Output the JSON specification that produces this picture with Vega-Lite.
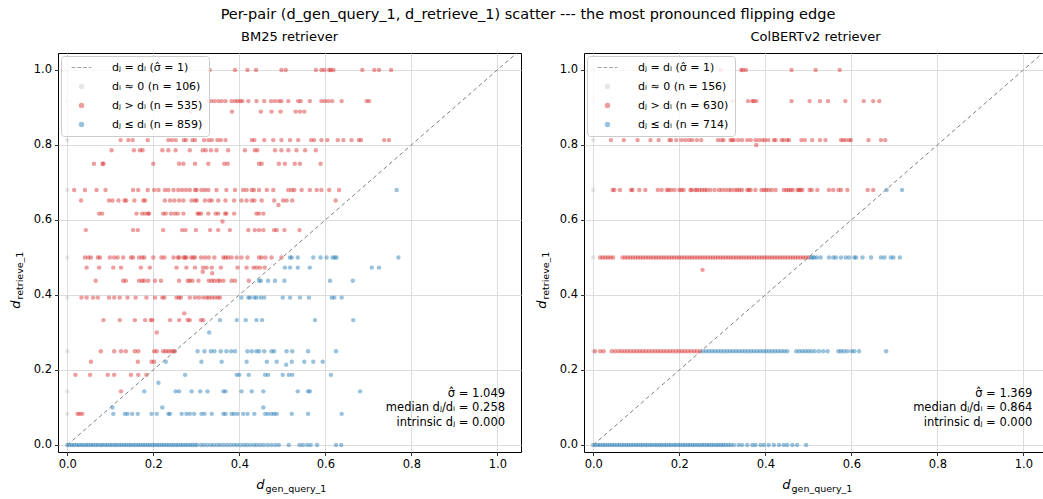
{
"$schema":"https://vega.github.io/schema/vega-lite/v6.json",
"padding":{"left":8,"top":6,"right":0,"bottom":6},
"title":{"text":"Per-pair (d_gen_query_1, d_retrieve_1) scatter --- the most pronounced flipping edge","fontSize":14.5,"fontWeight":"normal","anchor":"middle","offset":8,"font":"DejaVu Sans","color":"#000"},
"datasets":{
"diag":[{"x":0,"y":0},{"x":1.06,"y":1.06}],
"bmnote":[{"t":"σ̂ = 1.049\nmedian dⱼ/dᵢ = 0.258\nintrinsic dⱼ = 0.000"}],
"cbnote":[{"t":"σ̂ = 1.369\nmedian dⱼ/dᵢ = 0.864\nintrinsic dⱼ = 0.000"}],
"bm":[
{"x":0,"y":1,"c":"g"},{"x":0,"y":0.917,"c":"g"},{"x":0,"y":0.813,"c":"g"},{"x":0,"y":0.68,"c":"g"},{"x":0,"y":0.5,"c":"g"},{"x":0,"y":0.393,"c":"g"},{"x":0,"y":0.25,"c":"g"},{"x":0,"y":0.143,"c":"g"},{"x":0,"y":0.083,"c":"g"},
{"x":0.331,"y":1,"c":"r"},{"x":0.39,"y":1,"c":"r"},{"x":0.419,"y":1,"c":"r"},{"x":0.439,"y":1,"c":"r"},{"x":0.498,"y":1,"c":"r"},{"x":0.508,"y":1,"c":"r"},{"x":0.578,"y":1,"c":"r"},{"x":0.591,"y":1,"c":"r"},{"x":0.598,"y":1,"c":"r"},{"x":0.609,"y":1,"c":"r"},{"x":0.613,"y":1,"c":"r"},{"x":0.619,"y":1,"c":"r"},{"x":0.686,"y":1,"c":"r"},{"x":0.714,"y":1,"c":"r"},{"x":0.725,"y":1,"c":"r"},{"x":0.753,"y":1,"c":"r"},
{"x":0.281,"y":0.917,"c":"r"},{"x":0.303,"y":0.917,"c":"r"},{"x":0.328,"y":0.917,"c":"r"},{"x":0.334,"y":0.917,"c":"r"},{"x":0.342,"y":0.917,"c":"r"},{"x":0.351,"y":0.917,"c":"r"},{"x":0.359,"y":0.917,"c":"r"},{"x":0.368,"y":0.917,"c":"r"},{"x":0.382,"y":0.917,"c":"r"},{"x":0.39,"y":0.917,"c":"r"},{"x":0.396,"y":0.917,"c":"r"},{"x":0.402,"y":0.917,"c":"r"},{"x":0.407,"y":0.917,"c":"r"},{"x":0.421,"y":0.917,"c":"r"},{"x":0.44,"y":0.917,"c":"r"},{"x":0.458,"y":0.917,"c":"r"},{"x":0.474,"y":0.917,"c":"r"},{"x":0.483,"y":0.917,"c":"r"},{"x":0.492,"y":0.917,"c":"r"},{"x":0.498,"y":0.917,"c":"r"},{"x":0.514,"y":0.917,"c":"r"},{"x":0.537,"y":0.917,"c":"r"},{"x":0.543,"y":0.917,"c":"r"},{"x":0.564,"y":0.917,"c":"r"},{"x":0.591,"y":0.917,"c":"r"},{"x":0.599,"y":0.917,"c":"r"},{"x":0.607,"y":0.917,"c":"r"},{"x":0.616,"y":0.917,"c":"r"},{"x":0.638,"y":0.917,"c":"r"},{"x":0.696,"y":0.917,"c":"r"},{"x":0.702,"y":0.917,"c":"r"},
{"x":0.287,"y":0.889,"c":"r"},{"x":0.383,"y":0.889,"c":"r"},{"x":0.45,"y":0.889,"c":"r"},{"x":0.475,"y":0.889,"c":"r"},{"x":0.496,"y":0.889,"c":"r"},{"x":0.531,"y":0.889,"c":"r"},{"x":0.541,"y":0.889,"c":"r"},{"x":0.551,"y":0.889,"c":"r"},
{"x":0.124,"y":0.813,"c":"r"},{"x":0.142,"y":0.813,"c":"r"},{"x":0.152,"y":0.813,"c":"r"},{"x":0.187,"y":0.813,"c":"r"},{"x":0.235,"y":0.813,"c":"r"},{"x":0.243,"y":0.813,"c":"r"},{"x":0.252,"y":0.813,"c":"r"},{"x":0.271,"y":0.813,"c":"r"},{"x":0.276,"y":0.813,"c":"r"},{"x":0.291,"y":0.813,"c":"r"},{"x":0.297,"y":0.813,"c":"r"},{"x":0.318,"y":0.813,"c":"r"},{"x":0.328,"y":0.813,"c":"r"},{"x":0.336,"y":0.813,"c":"r"},{"x":0.349,"y":0.813,"c":"r"},{"x":0.357,"y":0.813,"c":"r"},{"x":0.368,"y":0.813,"c":"r"},{"x":0.429,"y":0.813,"c":"r"},{"x":0.435,"y":0.813,"c":"r"},{"x":0.458,"y":0.813,"c":"r"},{"x":0.479,"y":0.813,"c":"r"},{"x":0.498,"y":0.813,"c":"r"},{"x":0.518,"y":0.813,"c":"r"},{"x":0.537,"y":0.813,"c":"r"},{"x":0.567,"y":0.813,"c":"r"},{"x":0.574,"y":0.813,"c":"r"},{"x":0.591,"y":0.813,"c":"r"},{"x":0.605,"y":0.813,"c":"r"},{"x":0.629,"y":0.813,"c":"r"},{"x":0.642,"y":0.813,"c":"r"},{"x":0.661,"y":0.813,"c":"r"},{"x":0.678,"y":0.813,"c":"r"},{"x":0.683,"y":0.813,"c":"r"},{"x":0.737,"y":0.813,"c":"r"},{"x":0.748,"y":0.813,"c":"r"},
{"x":0.103,"y":0.786,"c":"r"},{"x":0.155,"y":0.786,"c":"r"},{"x":0.169,"y":0.786,"c":"r"},{"x":0.175,"y":0.786,"c":"r"},{"x":0.221,"y":0.786,"c":"r"},{"x":0.235,"y":0.786,"c":"r"},{"x":0.252,"y":0.786,"c":"r"},{"x":0.285,"y":0.786,"c":"r"},{"x":0.315,"y":0.786,"c":"r"},{"x":0.322,"y":0.786,"c":"r"},{"x":0.334,"y":0.786,"c":"r"},{"x":0.347,"y":0.786,"c":"r"},{"x":0.374,"y":0.786,"c":"r"},{"x":0.413,"y":0.786,"c":"r"},{"x":0.436,"y":0.786,"c":"r"},{"x":0.442,"y":0.786,"c":"r"},{"x":0.483,"y":0.786,"c":"r"},{"x":0.498,"y":0.786,"c":"r"},{"x":0.514,"y":0.786,"c":"r"},{"x":0.533,"y":0.786,"c":"r"},{"x":0.553,"y":0.786,"c":"r"},{"x":0.578,"y":0.786,"c":"r"},
{"x":0.062,"y":0.75,"c":"r"},{"x":0.082,"y":0.75,"c":"r"},{"x":0.084,"y":0.75,"c":"r"},{"x":0.2,"y":0.75,"c":"r"},{"x":0.26,"y":0.75,"c":"r"},{"x":0.27,"y":0.75,"c":"r"},{"x":0.297,"y":0.75,"c":"r"},{"x":0.328,"y":0.75,"c":"r"},{"x":0.365,"y":0.75,"c":"r"},{"x":0.373,"y":0.75,"c":"r"},{"x":0.446,"y":0.75,"c":"r"},{"x":0.452,"y":0.75,"c":"r"},{"x":0.492,"y":0.75,"c":"r"},{"x":0.506,"y":0.75,"c":"r"},{"x":0.529,"y":0.75,"c":"r"},{"x":0.541,"y":0.75,"c":"r"},{"x":0.589,"y":0.75,"c":"r"},
{"x":0.016,"y":0.68,"c":"r"},{"x":0.041,"y":0.68,"c":"r"},{"x":0.068,"y":0.68,"c":"r"},{"x":0.089,"y":0.68,"c":"r"},{"x":0.153,"y":0.68,"c":"r"},{"x":0.165,"y":0.68,"c":"r"},{"x":0.187,"y":0.68,"c":"r"},{"x":0.202,"y":0.68,"c":"r"},{"x":0.212,"y":0.68,"c":"r"},{"x":0.227,"y":0.68,"c":"r"},{"x":0.235,"y":0.68,"c":"r"},{"x":0.247,"y":0.68,"c":"r"},{"x":0.258,"y":0.68,"c":"r"},{"x":0.267,"y":0.68,"c":"r"},{"x":0.276,"y":0.68,"c":"r"},{"x":0.285,"y":0.68,"c":"r"},{"x":0.297,"y":0.68,"c":"r"},{"x":0.301,"y":0.68,"c":"r"},{"x":0.312,"y":0.68,"c":"r"},{"x":0.32,"y":0.68,"c":"r"},{"x":0.328,"y":0.68,"c":"r"},{"x":0.347,"y":0.68,"c":"r"},{"x":0.37,"y":0.68,"c":"r"},{"x":0.39,"y":0.68,"c":"r"},{"x":0.409,"y":0.68,"c":"r"},{"x":0.417,"y":0.68,"c":"r"},{"x":0.429,"y":0.68,"c":"r"},{"x":0.434,"y":0.68,"c":"r"},{"x":0.446,"y":0.68,"c":"r"},{"x":0.464,"y":0.68,"c":"r"},{"x":0.479,"y":0.68,"c":"r"},{"x":0.514,"y":0.68,"c":"r"},{"x":0.522,"y":0.68,"c":"r"},{"x":0.528,"y":0.68,"c":"r"},{"x":0.545,"y":0.68,"c":"r"},{"x":0.564,"y":0.68,"c":"r"},{"x":0.58,"y":0.68,"c":"r"},{"x":0.591,"y":0.68,"c":"r"},{"x":0.609,"y":0.68,"c":"r"},{"x":0.632,"y":0.68,"c":"r"},
{"x":0.032,"y":0.652,"c":"r"},{"x":0.097,"y":0.652,"c":"r"},{"x":0.105,"y":0.652,"c":"r"},{"x":0.119,"y":0.652,"c":"r"},{"x":0.133,"y":0.652,"c":"r"},{"x":0.137,"y":0.652,"c":"r"},{"x":0.156,"y":0.652,"c":"r"},{"x":0.177,"y":0.652,"c":"r"},{"x":0.181,"y":0.652,"c":"r"},{"x":0.227,"y":0.652,"c":"r"},{"x":0.239,"y":0.652,"c":"r"},{"x":0.249,"y":0.652,"c":"r"},{"x":0.26,"y":0.652,"c":"r"},{"x":0.27,"y":0.652,"c":"r"},{"x":0.289,"y":0.652,"c":"r"},{"x":0.297,"y":0.652,"c":"r"},{"x":0.301,"y":0.652,"c":"r"},{"x":0.32,"y":0.652,"c":"r"},{"x":0.33,"y":0.652,"c":"r"},{"x":0.336,"y":0.652,"c":"r"},{"x":0.351,"y":0.652,"c":"r"},{"x":0.368,"y":0.652,"c":"r"},{"x":0.388,"y":0.652,"c":"r"},{"x":0.405,"y":0.652,"c":"r"},{"x":0.417,"y":0.652,"c":"r"},{"x":0.429,"y":0.652,"c":"r"},{"x":0.435,"y":0.652,"c":"r"},{"x":0.452,"y":0.652,"c":"r"},{"x":0.481,"y":0.652,"c":"r"},{"x":0.502,"y":0.652,"c":"r"},{"x":0.51,"y":0.652,"c":"r"},{"x":0.523,"y":0.652,"c":"r"},{"x":0.624,"y":0.652,"c":"r"},{"x":0.491,"y":0.64,"c":"r"},
{"x":0.074,"y":0.617,"c":"r"},{"x":0.081,"y":0.617,"c":"r"},{"x":0.161,"y":0.617,"c":"r"},{"x":0.174,"y":0.617,"c":"r"},{"x":0.181,"y":0.617,"c":"r"},{"x":0.188,"y":0.617,"c":"r"},{"x":0.19,"y":0.617,"c":"r"},{"x":0.223,"y":0.617,"c":"r"},{"x":0.229,"y":0.617,"c":"r"},{"x":0.241,"y":0.617,"c":"r"},{"x":0.25,"y":0.617,"c":"r"},{"x":0.257,"y":0.617,"c":"r"},{"x":0.27,"y":0.617,"c":"r"},{"x":0.303,"y":0.617,"c":"r"},{"x":0.306,"y":0.617,"c":"r"},{"x":0.311,"y":0.617,"c":"r"},{"x":0.328,"y":0.617,"c":"r"},{"x":0.345,"y":0.617,"c":"r"},{"x":0.351,"y":0.617,"c":"r"},{"x":0.367,"y":0.617,"c":"r"},{"x":0.37,"y":0.617,"c":"r"},{"x":0.388,"y":0.617,"c":"r"},{"x":0.44,"y":0.617,"c":"r"},{"x":0.446,"y":0.617,"c":"r"},{"x":0.456,"y":0.617,"c":"r"},{"x":0.361,"y":0.596,"c":"r"},
{"x":0.043,"y":0.573,"c":"r"},{"x":0.153,"y":0.573,"c":"r"},{"x":0.164,"y":0.573,"c":"r"},{"x":0.223,"y":0.573,"c":"r"},{"x":0.267,"y":0.573,"c":"r"},{"x":0.275,"y":0.573,"c":"r"},{"x":0.299,"y":0.573,"c":"r"},{"x":0.332,"y":0.573,"c":"r"},{"x":0.351,"y":0.573,"c":"r"},{"x":0.378,"y":0.573,"c":"r"},{"x":0.421,"y":0.573,"c":"r"},{"x":0.436,"y":0.573,"c":"r"},{"x":0.446,"y":0.573,"c":"r"},{"x":0.456,"y":0.573,"c":"r"},{"x":0.481,"y":0.573,"c":"r"},{"x":0.487,"y":0.573,"c":"r"},{"x":0.505,"y":0.573,"c":"r"},{"x":0.54,"y":0.573,"c":"r"},
{"x":0.041,"y":0.5,"c":"r"},{"x":0.049,"y":0.5,"c":"r"},{"x":0.055,"y":0.5,"c":"r"},{"x":0.071,"y":0.5,"c":"r"},{"x":0.076,"y":0.5,"c":"r"},{"x":0.099,"y":0.5,"c":"r"},{"x":0.109,"y":0.5,"c":"r"},{"x":0.117,"y":0.5,"c":"r"},{"x":0.13,"y":0.5,"c":"r"},{"x":0.148,"y":0.5,"c":"r"},{"x":0.153,"y":0.5,"c":"r"},{"x":0.167,"y":0.5,"c":"r"},{"x":0.174,"y":0.5,"c":"r"},{"x":0.179,"y":0.5,"c":"r"},{"x":0.2,"y":0.5,"c":"r"},{"x":0.219,"y":0.5,"c":"r"},{"x":0.226,"y":0.5,"c":"r"},{"x":0.247,"y":0.5,"c":"r"},{"x":0.257,"y":0.5,"c":"r"},{"x":0.26,"y":0.5,"c":"r"},{"x":0.27,"y":0.5,"c":"r"},{"x":0.274,"y":0.5,"c":"r"},{"x":0.277,"y":0.5,"c":"r"},{"x":0.288,"y":0.5,"c":"r"},{"x":0.293,"y":0.5,"c":"r"},{"x":0.297,"y":0.5,"c":"r"},{"x":0.311,"y":0.5,"c":"r"},{"x":0.32,"y":0.5,"c":"r"},{"x":0.329,"y":0.5,"c":"r"},{"x":0.342,"y":0.5,"c":"r"},{"x":0.363,"y":0.5,"c":"r"},{"x":0.368,"y":0.5,"c":"r"},{"x":0.374,"y":0.5,"c":"r"},{"x":0.382,"y":0.5,"c":"r"},{"x":0.394,"y":0.5,"c":"r"},{"x":0.405,"y":0.5,"c":"r"},{"x":0.419,"y":0.5,"c":"r"},{"x":0.446,"y":0.5,"c":"r"},{"x":0.452,"y":0.5,"c":"r"},{"x":0.461,"y":0.5,"c":"r"},{"x":0.475,"y":0.5,"c":"r"},{"x":0.498,"y":0.5,"c":"r"},
{"x":0.045,"y":0.473,"c":"r"},{"x":0.074,"y":0.473,"c":"r"},{"x":0.107,"y":0.473,"c":"r"},{"x":0.125,"y":0.473,"c":"r"},{"x":0.171,"y":0.473,"c":"r"},{"x":0.192,"y":0.473,"c":"r"},{"x":0.254,"y":0.473,"c":"r"},{"x":0.277,"y":0.473,"c":"r"},{"x":0.297,"y":0.473,"c":"r"},{"x":0.316,"y":0.473,"c":"r"},{"x":0.324,"y":0.473,"c":"r"},{"x":0.336,"y":0.473,"c":"r"},{"x":0.357,"y":0.473,"c":"r"},{"x":0.396,"y":0.473,"c":"r"},{"x":0.417,"y":0.473,"c":"r"},{"x":0.433,"y":0.473,"c":"r"},{"x":0.44,"y":0.473,"c":"r"},{"x":0.448,"y":0.473,"c":"r"},{"x":0.459,"y":0.473,"c":"r"},{"x":0.315,"y":0.462,"c":"r"},{"x":0.337,"y":0.458,"c":"r"},
{"x":0.066,"y":0.438,"c":"r"},{"x":0.13,"y":0.438,"c":"r"},{"x":0.136,"y":0.438,"c":"r"},{"x":0.167,"y":0.438,"c":"r"},{"x":0.174,"y":0.438,"c":"r"},{"x":0.179,"y":0.438,"c":"r"},{"x":0.188,"y":0.438,"c":"r"},{"x":0.204,"y":0.438,"c":"r"},{"x":0.218,"y":0.438,"c":"r"},{"x":0.26,"y":0.438,"c":"r"},{"x":0.28,"y":0.438,"c":"r"},{"x":0.285,"y":0.438,"c":"r"},{"x":0.291,"y":0.438,"c":"r"},{"x":0.305,"y":0.438,"c":"r"},{"x":0.329,"y":0.438,"c":"r"},{"x":0.336,"y":0.438,"c":"r"},{"x":0.342,"y":0.438,"c":"r"},{"x":0.35,"y":0.438,"c":"r"},{"x":0.355,"y":0.438,"c":"r"},{"x":0.363,"y":0.438,"c":"r"},{"x":0.382,"y":0.438,"c":"r"},{"x":0.39,"y":0.438,"c":"r"},{"x":0.422,"y":0.438,"c":"r"},
{"x":0.033,"y":0.393,"c":"r"},{"x":0.045,"y":0.393,"c":"r"},{"x":0.06,"y":0.393,"c":"r"},{"x":0.071,"y":0.393,"c":"r"},{"x":0.097,"y":0.393,"c":"r"},{"x":0.109,"y":0.393,"c":"r"},{"x":0.122,"y":0.393,"c":"r"},{"x":0.14,"y":0.393,"c":"r"},{"x":0.159,"y":0.393,"c":"r"},{"x":0.184,"y":0.393,"c":"r"},{"x":0.204,"y":0.393,"c":"r"},{"x":0.221,"y":0.393,"c":"r"},{"x":0.226,"y":0.393,"c":"r"},{"x":0.254,"y":0.393,"c":"r"},{"x":0.26,"y":0.393,"c":"r"},{"x":0.264,"y":0.393,"c":"r"},{"x":0.285,"y":0.393,"c":"r"},{"x":0.297,"y":0.393,"c":"r"},{"x":0.306,"y":0.393,"c":"r"},{"x":0.316,"y":0.393,"c":"r"},{"x":0.324,"y":0.393,"c":"r"},{"x":0.329,"y":0.393,"c":"r"},{"x":0.336,"y":0.393,"c":"r"},{"x":0.343,"y":0.393,"c":"r"},{"x":0.35,"y":0.393,"c":"r"},{"x":0.355,"y":0.393,"c":"r"},{"x":0.272,"y":0.351,"c":"r"},
{"x":0.084,"y":0.333,"c":"r"},{"x":0.122,"y":0.333,"c":"r"},{"x":0.157,"y":0.333,"c":"r"},{"x":0.181,"y":0.333,"c":"r"},{"x":0.194,"y":0.333,"c":"r"},{"x":0.198,"y":0.333,"c":"r"},{"x":0.239,"y":0.333,"c":"r"},{"x":0.26,"y":0.333,"c":"r"},{"x":0.28,"y":0.333,"c":"r"},{"x":0.285,"y":0.333,"c":"r"},{"x":0.311,"y":0.333,"c":"r"},{"x":0.316,"y":0.333,"c":"r"},{"x":0.208,"y":0.3,"c":"r"},
{"x":0.078,"y":0.25,"c":"r"},{"x":0.109,"y":0.25,"c":"r"},{"x":0.125,"y":0.25,"c":"r"},{"x":0.136,"y":0.25,"c":"r"},{"x":0.157,"y":0.25,"c":"r"},{"x":0.165,"y":0.25,"c":"r"},{"x":0.202,"y":0.25,"c":"r"},{"x":0.208,"y":0.25,"c":"r"},{"x":0.223,"y":0.25,"c":"r"},{"x":0.229,"y":0.25,"c":"r"},{"x":0.235,"y":0.25,"c":"r"},{"x":0.241,"y":0.25,"c":"r"},{"x":0.247,"y":0.25,"c":"r"},{"x":0.25,"y":0.25,"c":"r"},
{"x":0.055,"y":0.222,"c":"r"},{"x":0.164,"y":0.222,"c":"r"},{"x":0.196,"y":0.222,"c":"r"},{"x":0.202,"y":0.222,"c":"r"},
{"x":0.019,"y":0.187,"c":"r"},{"x":0.053,"y":0.187,"c":"r"},{"x":0.094,"y":0.187,"c":"r"},{"x":0.109,"y":0.187,"c":"r"},{"x":0.148,"y":0.187,"c":"r"},{"x":0.165,"y":0.187,"c":"r"},{"x":0.184,"y":0.187,"c":"r"},
{"x":0.125,"y":0.143,"c":"r"},{"x":0.024,"y":0.083,"c":"r"},{"x":0.029,"y":0.083,"c":"r"},{"x":0.035,"y":0.083,"c":"r"},
{"x":0.766,"y":0.68,"c":"b"},
{"x":0.518,"y":0.5,"c":"b"},{"x":0.522,"y":0.5,"c":"b"},{"x":0.536,"y":0.5,"c":"b"},{"x":0.572,"y":0.5,"c":"b"},{"x":0.589,"y":0.5,"c":"b"},{"x":0.603,"y":0.5,"c":"b"},{"x":0.617,"y":0.5,"c":"b"},{"x":0.622,"y":0.5,"c":"b"},{"x":0.626,"y":0.5,"c":"b"},{"x":0.77,"y":0.5,"c":"b"},
{"x":0.506,"y":0.473,"c":"b"},{"x":0.518,"y":0.473,"c":"b"},{"x":0.536,"y":0.473,"c":"b"},{"x":0.564,"y":0.473,"c":"b"},{"x":0.708,"y":0.473,"c":"b"},{"x":0.725,"y":0.473,"c":"b"},
{"x":0.446,"y":0.438,"c":"b"},{"x":0.45,"y":0.438,"c":"b"},{"x":0.467,"y":0.438,"c":"b"},{"x":0.483,"y":0.438,"c":"b"},{"x":0.505,"y":0.438,"c":"b"},{"x":0.611,"y":0.438,"c":"b"},{"x":0.664,"y":0.438,"c":"b"},
{"x":0.405,"y":0.393,"c":"b"},{"x":0.421,"y":0.393,"c":"b"},{"x":0.425,"y":0.393,"c":"b"},{"x":0.435,"y":0.393,"c":"b"},{"x":0.44,"y":0.393,"c":"b"},{"x":0.45,"y":0.393,"c":"b"},{"x":0.458,"y":0.393,"c":"b"},{"x":0.501,"y":0.393,"c":"b"},{"x":0.518,"y":0.393,"c":"b"},{"x":0.541,"y":0.393,"c":"b"},{"x":0.562,"y":0.393,"c":"b"},{"x":0.615,"y":0.393,"c":"b"},{"x":0.621,"y":0.393,"c":"b"},{"x":0.638,"y":0.393,"c":"b"},
{"x":0.355,"y":0.333,"c":"b"},{"x":0.394,"y":0.333,"c":"b"},{"x":0.415,"y":0.333,"c":"b"},{"x":0.44,"y":0.333,"c":"b"},{"x":0.453,"y":0.333,"c":"b"},{"x":0.576,"y":0.333,"c":"b"},{"x":0.665,"y":0.333,"c":"b"},{"x":0.33,"y":0.3,"c":"b"},
{"x":0.303,"y":0.25,"c":"b"},{"x":0.319,"y":0.25,"c":"b"},{"x":0.334,"y":0.25,"c":"b"},{"x":0.342,"y":0.25,"c":"b"},{"x":0.357,"y":0.25,"c":"b"},{"x":0.37,"y":0.25,"c":"b"},{"x":0.381,"y":0.25,"c":"b"},{"x":0.39,"y":0.25,"c":"b"},{"x":0.419,"y":0.25,"c":"b"},{"x":0.429,"y":0.25,"c":"b"},{"x":0.44,"y":0.25,"c":"b"},{"x":0.446,"y":0.25,"c":"b"},{"x":0.458,"y":0.25,"c":"b"},{"x":0.475,"y":0.25,"c":"b"},{"x":0.481,"y":0.25,"c":"b"},{"x":0.51,"y":0.25,"c":"b"},{"x":0.523,"y":0.25,"c":"b"},{"x":0.56,"y":0.25,"c":"b"},{"x":0.625,"y":0.25,"c":"b"},
{"x":0.229,"y":0.222,"c":"b"},{"x":0.312,"y":0.222,"c":"b"},{"x":0.359,"y":0.222,"c":"b"},{"x":0.417,"y":0.222,"c":"b"},{"x":0.464,"y":0.222,"c":"b"},{"x":0.487,"y":0.222,"c":"b"},{"x":0.522,"y":0.222,"c":"b"},{"x":0.551,"y":0.222,"c":"b"},{"x":0.572,"y":0.222,"c":"b"},{"x":0.594,"y":0.222,"c":"b"},{"x":0.509,"y":0.214,"c":"b"},
{"x":0.274,"y":0.187,"c":"b"},{"x":0.394,"y":0.187,"c":"b"},{"x":0.4,"y":0.187,"c":"b"},{"x":0.422,"y":0.187,"c":"b"},{"x":0.46,"y":0.187,"c":"b"},{"x":0.467,"y":0.187,"c":"b"},{"x":0.501,"y":0.187,"c":"b"},{"x":0.515,"y":0.187,"c":"b"},{"x":0.523,"y":0.187,"c":"b"},{"x":0.613,"y":0.187,"c":"b"},{"x":0.212,"y":0.166,"c":"b"},
{"x":0.179,"y":0.143,"c":"b"},{"x":0.252,"y":0.143,"c":"b"},{"x":0.26,"y":0.143,"c":"b"},{"x":0.289,"y":0.143,"c":"b"},{"x":0.309,"y":0.143,"c":"b"},{"x":0.326,"y":0.143,"c":"b"},{"x":0.363,"y":0.143,"c":"b"},{"x":0.368,"y":0.143,"c":"b"},{"x":0.405,"y":0.143,"c":"b"},{"x":0.429,"y":0.143,"c":"b"},{"x":0.456,"y":0.143,"c":"b"},{"x":0.536,"y":0.143,"c":"b"},{"x":0.56,"y":0.143,"c":"b"},{"x":0.564,"y":0.143,"c":"b"},{"x":0.681,"y":0.143,"c":"b"},
{"x":0.105,"y":0.1,"c":"b"},{"x":0.221,"y":0.1,"c":"b"},{"x":0.456,"y":0.1,"c":"b"},
{"x":0.107,"y":0.083,"c":"b"},{"x":0.134,"y":0.083,"c":"b"},{"x":0.14,"y":0.083,"c":"b"},{"x":0.151,"y":0.083,"c":"b"},{"x":0.164,"y":0.083,"c":"b"},{"x":0.196,"y":0.083,"c":"b"},{"x":0.208,"y":0.083,"c":"b"},{"x":0.235,"y":0.083,"c":"b"},{"x":0.239,"y":0.083,"c":"b"},{"x":0.266,"y":0.083,"c":"b"},{"x":0.277,"y":0.083,"c":"b"},{"x":0.285,"y":0.083,"c":"b"},{"x":0.295,"y":0.083,"c":"b"},{"x":0.312,"y":0.083,"c":"b"},{"x":0.319,"y":0.083,"c":"b"},{"x":0.336,"y":0.083,"c":"b"},{"x":0.363,"y":0.083,"c":"b"},{"x":0.368,"y":0.083,"c":"b"},{"x":0.382,"y":0.083,"c":"b"},{"x":0.388,"y":0.083,"c":"b"},{"x":0.396,"y":0.083,"c":"b"},{"x":0.409,"y":0.083,"c":"b"},{"x":0.419,"y":0.083,"c":"b"},{"x":0.435,"y":0.083,"c":"b"},{"x":0.46,"y":0.083,"c":"b"},{"x":0.467,"y":0.083,"c":"b"},{"x":0.475,"y":0.083,"c":"b"},{"x":0.481,"y":0.083,"c":"b"},{"x":0.487,"y":0.083,"c":"b"},{"x":0.522,"y":0.083,"c":"b"},{"x":0.56,"y":0.083,"c":"b"},{"x":0.638,"y":0.083,"c":"b"},
{"x":0,"y":0,"c":"b"},{"x":0.005,"y":0,"c":"b"},{"x":0.011,"y":0,"c":"b"},{"x":0.016,"y":0,"c":"b"},{"x":0.022,"y":0,"c":"b"},{"x":0.027,"y":0,"c":"b"},{"x":0.033,"y":0,"c":"b"},{"x":0.038,"y":0,"c":"b"},{"x":0.044,"y":0,"c":"b"},{"x":0.049,"y":0,"c":"b"},{"x":0.055,"y":0,"c":"b"},{"x":0.06,"y":0,"c":"b"},{"x":0.066,"y":0,"c":"b"},{"x":0.071,"y":0,"c":"b"},{"x":0.077,"y":0,"c":"b"},{"x":0.082,"y":0,"c":"b"},{"x":0.088,"y":0,"c":"b"},{"x":0.093,"y":0,"c":"b"},{"x":0.099,"y":0,"c":"b"},{"x":0.104,"y":0,"c":"b"},{"x":0.11,"y":0,"c":"b"},{"x":0.115,"y":0,"c":"b"},{"x":0.121,"y":0,"c":"b"},{"x":0.126,"y":0,"c":"b"},{"x":0.132,"y":0,"c":"b"},{"x":0.137,"y":0,"c":"b"},{"x":0.143,"y":0,"c":"b"},{"x":0.148,"y":0,"c":"b"},{"x":0.154,"y":0,"c":"b"},{"x":0.159,"y":0,"c":"b"},{"x":0.165,"y":0,"c":"b"},{"x":0.17,"y":0,"c":"b"},{"x":0.176,"y":0,"c":"b"},{"x":0.181,"y":0,"c":"b"},{"x":0.187,"y":0,"c":"b"},{"x":0.192,"y":0,"c":"b"},{"x":0.198,"y":0,"c":"b"},{"x":0.203,"y":0,"c":"b"},{"x":0.209,"y":0,"c":"b"},{"x":0.214,"y":0,"c":"b"},{"x":0.22,"y":0,"c":"b"},{"x":0.225,"y":0,"c":"b"},{"x":0.231,"y":0,"c":"b"},{"x":0.236,"y":0,"c":"b"},{"x":0.242,"y":0,"c":"b"},{"x":0.247,"y":0,"c":"b"},{"x":0.253,"y":0,"c":"b"},{"x":0.258,"y":0,"c":"b"},{"x":0.264,"y":0,"c":"b"},{"x":0.269,"y":0,"c":"b"},{"x":0.275,"y":0,"c":"b"},{"x":0.28,"y":0,"c":"b"},{"x":0.286,"y":0,"c":"b"},{"x":0.291,"y":0,"c":"b"},{"x":0.297,"y":0,"c":"b"},{"x":0.302,"y":0,"c":"b"},{"x":0.311,"y":0,"c":"b"},{"x":0.318,"y":0,"c":"b"},{"x":0.326,"y":0,"c":"b"},{"x":0.334,"y":0,"c":"b"},{"x":0.341,"y":0,"c":"b"},{"x":0.349,"y":0,"c":"b"},{"x":0.356,"y":0,"c":"b"},{"x":0.364,"y":0,"c":"b"},{"x":0.372,"y":0,"c":"b"},{"x":0.38,"y":0,"c":"b"},{"x":0.388,"y":0,"c":"b"},{"x":0.395,"y":0,"c":"b"},{"x":0.403,"y":0,"c":"b"},{"x":0.411,"y":0,"c":"b"},{"x":0.418,"y":0,"c":"b"},{"x":0.426,"y":0,"c":"b"},{"x":0.434,"y":0,"c":"b"},{"x":0.441,"y":0,"c":"b"},{"x":0.449,"y":0,"c":"b"},{"x":0.457,"y":0,"c":"b"},{"x":0.466,"y":0,"c":"b"},{"x":0.475,"y":0,"c":"b"},{"x":0.484,"y":0,"c":"b"},{"x":0.492,"y":0,"c":"b"},{"x":0.515,"y":0,"c":"b"},{"x":0.54,"y":0,"c":"b"},{"x":0.548,"y":0,"c":"b"},{"x":0.558,"y":0,"c":"b"},{"x":0.566,"y":0,"c":"b"},{"x":0.581,"y":0,"c":"b"},{"x":0.625,"y":0,"c":"b"},{"x":0.637,"y":0,"c":"b"}
],
"cb":[
{"x":0,"y":1,"c":"g"},{"x":0,"y":0.917,"c":"g"},{"x":0,"y":0.813,"c":"g"},{"x":0,"y":0.68,"c":"g"},{"x":0,"y":0.5,"c":"g"},{"x":0,"y":0.25,"c":"g"},
{"x":0.296,"y":1,"c":"r"},{"x":0.344,"y":1,"c":"r"},{"x":0.348,"y":1,"c":"r"},{"x":0.355,"y":1,"c":"r"},{"x":0.461,"y":1,"c":"r"},{"x":0.517,"y":1,"c":"r"},{"x":0.573,"y":1,"c":"r"},
{"x":0.324,"y":0.917,"c":"r"},{"x":0.36,"y":0.917,"c":"r"},{"x":0.37,"y":0.917,"c":"r"},{"x":0.373,"y":0.917,"c":"r"},{"x":0.379,"y":0.917,"c":"r"},{"x":0.461,"y":0.917,"c":"r"},{"x":0.503,"y":0.917,"c":"r"},{"x":0.527,"y":0.917,"c":"r"},{"x":0.546,"y":0.917,"c":"r"},{"x":0.586,"y":0.917,"c":"r"},{"x":0.629,"y":0.917,"c":"r"},{"x":0.651,"y":0.917,"c":"r"},{"x":0.665,"y":0.917,"c":"r"},
{"x":0.041,"y":0.813,"c":"r"},{"x":0.071,"y":0.813,"c":"r"},{"x":0.103,"y":0.813,"c":"r"},{"x":0.133,"y":0.813,"c":"r"},{"x":0.152,"y":0.813,"c":"r"},{"x":0.177,"y":0.813,"c":"r"},{"x":0.181,"y":0.813,"c":"r"},{"x":0.193,"y":0.813,"c":"r"},{"x":0.205,"y":0.813,"c":"r"},{"x":0.214,"y":0.813,"c":"r"},{"x":0.223,"y":0.813,"c":"r"},{"x":0.23,"y":0.813,"c":"r"},{"x":0.241,"y":0.813,"c":"r"},{"x":0.251,"y":0.813,"c":"r"},{"x":0.29,"y":0.813,"c":"r"},{"x":0.298,"y":0.813,"c":"r"},{"x":0.303,"y":0.813,"c":"r"},{"x":0.319,"y":0.813,"c":"r"},{"x":0.323,"y":0.813,"c":"r"},{"x":0.327,"y":0.813,"c":"r"},{"x":0.337,"y":0.813,"c":"r"},{"x":0.346,"y":0.813,"c":"r"},{"x":0.358,"y":0.813,"c":"r"},{"x":0.366,"y":0.813,"c":"r"},{"x":0.377,"y":0.813,"c":"r"},{"x":0.385,"y":0.813,"c":"r"},{"x":0.393,"y":0.813,"c":"r"},{"x":0.399,"y":0.813,"c":"r"},{"x":0.407,"y":0.813,"c":"r"},{"x":0.42,"y":0.813,"c":"r"},{"x":0.424,"y":0.813,"c":"r"},{"x":0.438,"y":0.813,"c":"r"},{"x":0.443,"y":0.813,"c":"r"},{"x":0.451,"y":0.813,"c":"r"},{"x":0.455,"y":0.813,"c":"r"},{"x":0.484,"y":0.813,"c":"r"},{"x":0.492,"y":0.813,"c":"r"},{"x":0.509,"y":0.813,"c":"r"},{"x":0.527,"y":0.813,"c":"r"},{"x":0.54,"y":0.813,"c":"r"},{"x":0.576,"y":0.813,"c":"r"},{"x":0.581,"y":0.813,"c":"r"},{"x":0.587,"y":0.813,"c":"r"},{"x":0.595,"y":0.813,"c":"r"},{"x":0.599,"y":0.813,"c":"r"},{"x":0.64,"y":0.813,"c":"r"},{"x":0.669,"y":0.813,"c":"r"},{"x":0.679,"y":0.813,"c":"r"},{"x":0.379,"y":0.8,"c":"r"},
{"x":0.045,"y":0.68,"c":"r"},{"x":0.049,"y":0.68,"c":"r"},{"x":0.062,"y":0.68,"c":"r"},{"x":0.088,"y":0.68,"c":"r"},{"x":0.091,"y":0.68,"c":"r"},{"x":0.107,"y":0.68,"c":"r"},{"x":0.121,"y":0.68,"c":"r"},{"x":0.15,"y":0.68,"c":"r"},{"x":0.159,"y":0.68,"c":"r"},{"x":0.171,"y":0.68,"c":"r"},{"x":0.175,"y":0.68,"c":"r"},{"x":0.181,"y":0.68,"c":"r"},{"x":0.189,"y":0.68,"c":"r"},{"x":0.2,"y":0.68,"c":"r"},{"x":0.205,"y":0.68,"c":"r"},{"x":0.21,"y":0.68,"c":"r"},{"x":0.226,"y":0.68,"c":"r"},{"x":0.229,"y":0.68,"c":"r"},{"x":0.237,"y":0.68,"c":"r"},{"x":0.241,"y":0.68,"c":"r"},{"x":0.247,"y":0.68,"c":"r"},{"x":0.253,"y":0.68,"c":"r"},{"x":0.259,"y":0.68,"c":"r"},{"x":0.264,"y":0.68,"c":"r"},{"x":0.272,"y":0.68,"c":"r"},{"x":0.282,"y":0.68,"c":"r"},{"x":0.292,"y":0.68,"c":"r"},{"x":0.299,"y":0.68,"c":"r"},{"x":0.307,"y":0.68,"c":"r"},{"x":0.315,"y":0.68,"c":"r"},{"x":0.321,"y":0.68,"c":"r"},{"x":0.329,"y":0.68,"c":"r"},{"x":0.335,"y":0.68,"c":"r"},{"x":0.34,"y":0.68,"c":"r"},{"x":0.346,"y":0.68,"c":"r"},{"x":0.358,"y":0.68,"c":"r"},{"x":0.362,"y":0.68,"c":"r"},{"x":0.366,"y":0.68,"c":"r"},{"x":0.377,"y":0.68,"c":"r"},{"x":0.391,"y":0.68,"c":"r"},{"x":0.397,"y":0.68,"c":"r"},{"x":0.402,"y":0.68,"c":"r"},{"x":0.408,"y":0.68,"c":"r"},{"x":0.415,"y":0.68,"c":"r"},{"x":0.424,"y":0.68,"c":"r"},{"x":0.443,"y":0.68,"c":"r"},{"x":0.449,"y":0.68,"c":"r"},{"x":0.454,"y":0.68,"c":"r"},{"x":0.459,"y":0.68,"c":"r"},{"x":0.464,"y":0.68,"c":"r"},{"x":0.475,"y":0.68,"c":"r"},{"x":0.478,"y":0.68,"c":"r"},{"x":0.482,"y":0.68,"c":"r"},{"x":0.486,"y":0.68,"c":"r"},{"x":0.503,"y":0.68,"c":"r"},{"x":0.508,"y":0.68,"c":"r"},{"x":0.521,"y":0.68,"c":"r"},{"x":0.548,"y":0.68,"c":"r"},{"x":0.558,"y":0.68,"c":"r"},{"x":0.57,"y":0.68,"c":"r"},{"x":0.576,"y":0.68,"c":"r"},{"x":0.591,"y":0.68,"c":"r"},{"x":0.638,"y":0.68,"c":"r"},{"x":0.651,"y":0.68,"c":"r"},
{"x":0.016,"y":0.5,"c":"r"},{"x":0.022,"y":0.5,"c":"r"},{"x":0.028,"y":0.5,"c":"r"},{"x":0.034,"y":0.5,"c":"r"},{"x":0.04,"y":0.5,"c":"r"},{"x":0.046,"y":0.5,"c":"r"},{"x":0.068,"y":0.5,"c":"r"},{"x":0.074,"y":0.5,"c":"r"},{"x":0.08,"y":0.5,"c":"r"},{"x":0.086,"y":0.5,"c":"r"},{"x":0.092,"y":0.5,"c":"r"},{"x":0.098,"y":0.5,"c":"r"},{"x":0.104,"y":0.5,"c":"r"},{"x":0.11,"y":0.5,"c":"r"},{"x":0.116,"y":0.5,"c":"r"},{"x":0.122,"y":0.5,"c":"r"},{"x":0.128,"y":0.5,"c":"r"},{"x":0.134,"y":0.5,"c":"r"},{"x":0.14,"y":0.5,"c":"r"},{"x":0.146,"y":0.5,"c":"r"},{"x":0.152,"y":0.5,"c":"r"},{"x":0.158,"y":0.5,"c":"r"},{"x":0.164,"y":0.5,"c":"r"},{"x":0.17,"y":0.5,"c":"r"},{"x":0.176,"y":0.5,"c":"r"},{"x":0.182,"y":0.5,"c":"r"},{"x":0.188,"y":0.5,"c":"r"},{"x":0.194,"y":0.5,"c":"r"},{"x":0.2,"y":0.5,"c":"r"},{"x":0.206,"y":0.5,"c":"r"},{"x":0.212,"y":0.5,"c":"r"},{"x":0.218,"y":0.5,"c":"r"},{"x":0.224,"y":0.5,"c":"r"},{"x":0.23,"y":0.5,"c":"r"},{"x":0.236,"y":0.5,"c":"r"},{"x":0.242,"y":0.5,"c":"r"},{"x":0.248,"y":0.5,"c":"r"},{"x":0.254,"y":0.5,"c":"r"},{"x":0.26,"y":0.5,"c":"r"},{"x":0.266,"y":0.5,"c":"r"},{"x":0.272,"y":0.5,"c":"r"},{"x":0.278,"y":0.5,"c":"r"},{"x":0.284,"y":0.5,"c":"r"},{"x":0.29,"y":0.5,"c":"r"},{"x":0.296,"y":0.5,"c":"r"},{"x":0.302,"y":0.5,"c":"r"},{"x":0.308,"y":0.5,"c":"r"},{"x":0.314,"y":0.5,"c":"r"},{"x":0.32,"y":0.5,"c":"r"},{"x":0.326,"y":0.5,"c":"r"},{"x":0.332,"y":0.5,"c":"r"},{"x":0.338,"y":0.5,"c":"r"},{"x":0.344,"y":0.5,"c":"r"},{"x":0.35,"y":0.5,"c":"r"},{"x":0.356,"y":0.5,"c":"r"},{"x":0.362,"y":0.5,"c":"r"},{"x":0.368,"y":0.5,"c":"r"},{"x":0.374,"y":0.5,"c":"r"},{"x":0.38,"y":0.5,"c":"r"},{"x":0.386,"y":0.5,"c":"r"},{"x":0.392,"y":0.5,"c":"r"},{"x":0.398,"y":0.5,"c":"r"},{"x":0.404,"y":0.5,"c":"r"},{"x":0.41,"y":0.5,"c":"r"},{"x":0.416,"y":0.5,"c":"r"},{"x":0.422,"y":0.5,"c":"r"},{"x":0.428,"y":0.5,"c":"r"},{"x":0.434,"y":0.5,"c":"r"},{"x":0.44,"y":0.5,"c":"r"},{"x":0.446,"y":0.5,"c":"r"},{"x":0.452,"y":0.5,"c":"r"},{"x":0.458,"y":0.5,"c":"r"},{"x":0.464,"y":0.5,"c":"r"},{"x":0.47,"y":0.5,"c":"r"},{"x":0.476,"y":0.5,"c":"r"},{"x":0.482,"y":0.5,"c":"r"},{"x":0.488,"y":0.5,"c":"r"},{"x":0.494,"y":0.5,"c":"r"},{"x":0.5,"y":0.5,"c":"r"},{"x":0.254,"y":0.467,"c":"r"},
{"x":0.004,"y":0.25,"c":"r"},{"x":0.016,"y":0.25,"c":"r"},{"x":0.024,"y":0.25,"c":"r"},{"x":0.043,"y":0.25,"c":"r"},{"x":0.051,"y":0.25,"c":"r"},{"x":0.059,"y":0.25,"c":"r"},{"x":0.066,"y":0.25,"c":"r"},{"x":0.073,"y":0.25,"c":"r"},{"x":0.08,"y":0.25,"c":"r"},{"x":0.087,"y":0.25,"c":"r"},{"x":0.094,"y":0.25,"c":"r"},{"x":0.101,"y":0.25,"c":"r"},{"x":0.108,"y":0.25,"c":"r"},{"x":0.115,"y":0.25,"c":"r"},{"x":0.122,"y":0.25,"c":"r"},{"x":0.129,"y":0.25,"c":"r"},{"x":0.136,"y":0.25,"c":"r"},{"x":0.143,"y":0.25,"c":"r"},{"x":0.15,"y":0.25,"c":"r"},{"x":0.157,"y":0.25,"c":"r"},{"x":0.164,"y":0.25,"c":"r"},{"x":0.171,"y":0.25,"c":"r"},{"x":0.178,"y":0.25,"c":"r"},{"x":0.185,"y":0.25,"c":"r"},{"x":0.192,"y":0.25,"c":"r"},{"x":0.199,"y":0.25,"c":"r"},{"x":0.206,"y":0.25,"c":"r"},{"x":0.213,"y":0.25,"c":"r"},{"x":0.22,"y":0.25,"c":"r"},{"x":0.227,"y":0.25,"c":"r"},{"x":0.234,"y":0.25,"c":"r"},{"x":0.241,"y":0.25,"c":"r"},{"x":0.248,"y":0.25,"c":"r"},
{"x":0.682,"y":0.68,"c":"b"},{"x":0.718,"y":0.68,"c":"b"},
{"x":0.506,"y":0.5,"c":"b"},{"x":0.51,"y":0.5,"c":"b"},{"x":0.514,"y":0.5,"c":"b"},{"x":0.52,"y":0.5,"c":"b"},{"x":0.529,"y":0.5,"c":"b"},{"x":0.548,"y":0.5,"c":"b"},{"x":0.558,"y":0.5,"c":"b"},{"x":0.564,"y":0.5,"c":"b"},{"x":0.576,"y":0.5,"c":"b"},{"x":0.587,"y":0.5,"c":"b"},{"x":0.595,"y":0.5,"c":"b"},{"x":0.607,"y":0.5,"c":"b"},{"x":0.611,"y":0.5,"c":"b"},{"x":0.626,"y":0.5,"c":"b"},{"x":0.646,"y":0.5,"c":"b"},{"x":0.669,"y":0.5,"c":"b"},{"x":0.677,"y":0.5,"c":"b"},{"x":0.692,"y":0.5,"c":"b"},{"x":0.698,"y":0.5,"c":"b"},{"x":0.713,"y":0.5,"c":"b"},
{"x":0.255,"y":0.25,"c":"b"},{"x":0.262,"y":0.25,"c":"b"},{"x":0.269,"y":0.25,"c":"b"},{"x":0.276,"y":0.25,"c":"b"},{"x":0.283,"y":0.25,"c":"b"},{"x":0.29,"y":0.25,"c":"b"},{"x":0.297,"y":0.25,"c":"b"},{"x":0.304,"y":0.25,"c":"b"},{"x":0.311,"y":0.25,"c":"b"},{"x":0.318,"y":0.25,"c":"b"},{"x":0.325,"y":0.25,"c":"b"},{"x":0.332,"y":0.25,"c":"b"},{"x":0.339,"y":0.25,"c":"b"},{"x":0.346,"y":0.25,"c":"b"},{"x":0.353,"y":0.25,"c":"b"},{"x":0.36,"y":0.25,"c":"b"},{"x":0.367,"y":0.25,"c":"b"},{"x":0.374,"y":0.25,"c":"b"},{"x":0.381,"y":0.25,"c":"b"},{"x":0.388,"y":0.25,"c":"b"},{"x":0.395,"y":0.25,"c":"b"},{"x":0.402,"y":0.25,"c":"b"},{"x":0.409,"y":0.25,"c":"b"},{"x":0.416,"y":0.25,"c":"b"},{"x":0.423,"y":0.25,"c":"b"},{"x":0.43,"y":0.25,"c":"b"},{"x":0.437,"y":0.25,"c":"b"},{"x":0.444,"y":0.25,"c":"b"},{"x":0.451,"y":0.25,"c":"b"},{"x":0.472,"y":0.25,"c":"b"},{"x":0.479,"y":0.25,"c":"b"},{"x":0.486,"y":0.25,"c":"b"},{"x":0.493,"y":0.25,"c":"b"},{"x":0.5,"y":0.25,"c":"b"},{"x":0.507,"y":0.25,"c":"b"},{"x":0.515,"y":0.25,"c":"b"},{"x":0.525,"y":0.25,"c":"b"},{"x":0.535,"y":0.25,"c":"b"},{"x":0.545,"y":0.25,"c":"b"},{"x":0.57,"y":0.25,"c":"b"},{"x":0.576,"y":0.25,"c":"b"},{"x":0.583,"y":0.25,"c":"b"},{"x":0.591,"y":0.25,"c":"b"},{"x":0.601,"y":0.25,"c":"b"},{"x":0.607,"y":0.25,"c":"b"},{"x":0.618,"y":0.25,"c":"b"},{"x":0.681,"y":0.25,"c":"b"},
{"x":0,"y":0,"c":"b"},{"x":0.005,"y":0,"c":"b"},{"x":0.011,"y":0,"c":"b"},{"x":0.016,"y":0,"c":"b"},{"x":0.022,"y":0,"c":"b"},{"x":0.027,"y":0,"c":"b"},{"x":0.033,"y":0,"c":"b"},{"x":0.038,"y":0,"c":"b"},{"x":0.044,"y":0,"c":"b"},{"x":0.049,"y":0,"c":"b"},{"x":0.055,"y":0,"c":"b"},{"x":0.06,"y":0,"c":"b"},{"x":0.066,"y":0,"c":"b"},{"x":0.071,"y":0,"c":"b"},{"x":0.077,"y":0,"c":"b"},{"x":0.082,"y":0,"c":"b"},{"x":0.088,"y":0,"c":"b"},{"x":0.093,"y":0,"c":"b"},{"x":0.099,"y":0,"c":"b"},{"x":0.104,"y":0,"c":"b"},{"x":0.11,"y":0,"c":"b"},{"x":0.115,"y":0,"c":"b"},{"x":0.121,"y":0,"c":"b"},{"x":0.126,"y":0,"c":"b"},{"x":0.132,"y":0,"c":"b"},{"x":0.137,"y":0,"c":"b"},{"x":0.143,"y":0,"c":"b"},{"x":0.148,"y":0,"c":"b"},{"x":0.154,"y":0,"c":"b"},{"x":0.159,"y":0,"c":"b"},{"x":0.165,"y":0,"c":"b"},{"x":0.17,"y":0,"c":"b"},{"x":0.176,"y":0,"c":"b"},{"x":0.181,"y":0,"c":"b"},{"x":0.187,"y":0,"c":"b"},{"x":0.192,"y":0,"c":"b"},{"x":0.198,"y":0,"c":"b"},{"x":0.203,"y":0,"c":"b"},{"x":0.209,"y":0,"c":"b"},{"x":0.214,"y":0,"c":"b"},{"x":0.22,"y":0,"c":"b"},{"x":0.225,"y":0,"c":"b"},{"x":0.231,"y":0,"c":"b"},{"x":0.236,"y":0,"c":"b"},{"x":0.242,"y":0,"c":"b"},{"x":0.247,"y":0,"c":"b"},{"x":0.253,"y":0,"c":"b"},{"x":0.258,"y":0,"c":"b"},{"x":0.264,"y":0,"c":"b"},{"x":0.269,"y":0,"c":"b"},{"x":0.275,"y":0,"c":"b"},{"x":0.28,"y":0,"c":"b"},{"x":0.286,"y":0,"c":"b"},{"x":0.291,"y":0,"c":"b"},{"x":0.297,"y":0,"c":"b"},{"x":0.302,"y":0,"c":"b"},{"x":0.308,"y":0,"c":"b"},{"x":0.314,"y":0,"c":"b"},{"x":0.32,"y":0,"c":"b"},{"x":0.327,"y":0,"c":"b"},{"x":0.338,"y":0,"c":"b"},{"x":0.346,"y":0,"c":"b"},{"x":0.358,"y":0,"c":"b"},{"x":0.37,"y":0,"c":"b"},{"x":0.377,"y":0,"c":"b"},{"x":0.389,"y":0,"c":"b"},{"x":0.397,"y":0,"c":"b"},{"x":0.408,"y":0,"c":"b"},{"x":0.42,"y":0,"c":"b"},{"x":0.432,"y":0,"c":"b"},{"x":0.443,"y":0,"c":"b"},{"x":0.451,"y":0,"c":"b"},{"x":0.463,"y":0,"c":"b"},{"x":0.474,"y":0,"c":"b"},{"x":0.495,"y":0,"c":"b"}
]
},
"hconcat":[
{"title":{"text":"BM25 retriever","offset":9.5},"width":463,"height":399,
"layer":[
{"mark":{"type":"rule","color":"#b0b0b0","strokeDash":[2,2],"strokeWidth":0.8},"encoding":{"x":{"datum":0,"type":"quantitative","scale":{"domain":[-0.0216,1.0551],"nice":false,"zero":false},"axis":null}}},
{"data":{"name":"bm"},"mark":{"type":"point","filled":true,"size":20,"opacity":0.45,"strokeWidth":0},
"encoding":{
"x":{"field":"x","type":"quantitative","scale":{"domain":[-0.0216,1.0551],"nice":false,"zero":false},"axis":{"grid":true,"values":[0,0.2,0.4,0.6,0.8,1],"format":".1f","title":"d","titleFontStyle":"italic","titleFontSize":13,"titleAlign":"right","titleBaseline":"alphabetic","titleX":206,"titleY":36}},
"y":{"field":"y","type":"quantitative","scale":{"domain":[-0.0187,1.0453],"nice":false,"zero":false},"axis":{"grid":true,"values":[0,0.2,0.4,0.6,0.8,1],"format":".1f","title":"d","titleFontStyle":"italic","titleFontSize":13,"titleAlign":"right","titleBaseline":"alphabetic","titleAngle":270,"titleX":-39,"titleY":247}},
"color":{"field":"c","type":"nominal","scale":{"domain":["eq","g","r","b"],"range":["#333333","#c8c8c8","#d62728","#1f77b4"]},
"legend":{"orient":"top-left","title":null,"symbolSize":30,"symbolOffset":9,"labelOffset":25,"labelExpr":"datum.value === 'eq' ? 'dⱼ = dᵢ (σ̂ = 1)' : datum.value === 'g' ? 'dᵢ ≈ 0 (n = 106)' : datum.value === 'r' ? 'dⱼ > dᵢ (n = 535)' : 'dⱼ ≤ dᵢ (n = 859)'"}},
"shape":{"field":"c","type":"nominal","scale":{"domain":["eq","g","r","b"],"range":["M-3.6,-0.2H-2.2V0.2H-3.6Z M-1.5,-0.2H-0.1V0.2H-1.5Z M0.6,-0.2H2.0V0.2H0.6Z M2.7,-0.2H3.6V0.2H2.7Z","circle","circle","circle"]},
"legend":{"orient":"top-left","title":null,"symbolSize":30,"symbolOffset":9,"labelOffset":25,"labelExpr":"datum.value === 'eq' ? 'dⱼ = dᵢ (σ̂ = 1)' : datum.value === 'g' ? 'dᵢ ≈ 0 (n = 106)' : datum.value === 'r' ? 'dⱼ > dᵢ (n = 535)' : 'dⱼ ≤ dᵢ (n = 859)'"}}
}},
{"data":{"name":"diag"},"mark":{"type":"line","color":"#7f7f7f","strokeDash":[4,3],"strokeWidth":1,"clip":true},
"encoding":{
"x":{"field":"x","type":"quantitative","scale":{"domain":[-0.0216,1.0551],"nice":false,"zero":false},"axis":{"orient":"bottom","title":"gen_query_1","titleFontSize":9.5,"titleAlign":"left","titleBaseline":"alphabetic","titleX":207,"titleY":39,"labels":false,"ticks":false,"domain":false,"grid":false}},
"y":{"field":"y","type":"quantitative","scale":{"domain":[-0.0187,1.0453],"nice":false,"zero":false},"axis":{"orient":"left","title":"retrieve_1","titleFontSize":9.5,"titleAlign":"left","titleBaseline":"alphabetic","titleAngle":270,"titleX":-36,"titleY":246,"labels":false,"ticks":false,"domain":false,"grid":false}}}},
{"mark":{"type":"rect","fill":"white","fillOpacity":0.8,"stroke":"#aaaaaa","strokeWidth":1,"cornerRadius":5},
"encoding":{"x":{"datum":0.73,"type":"quantitative","axis":null},"x2":{"datum":1.033},"y":{"datum":0.157,"type":"quantitative","axis":null},"y2":{"datum":0.024}}},
{"data":{"name":"bmnote"},"mark":{"type":"text","align":"right","baseline":"middle","lineBreak":"\n","fontSize":11.5,"lineHeight":14.5,"color":"#000"},
"encoding":{"x":{"datum":1.018,"type":"quantitative","axis":null},"y":{"datum":0.136,"type":"quantitative","axis":null},"text":{"field":"t"}}}
],
"resolve":{"axis":{"x":"independent","y":"independent"}}
},
{"title":{"text":"ColBERTv2 retriever","offset":9.5},"width":463,"height":399,
"layer":[
{"mark":{"type":"rule","color":"#b0b0b0","strokeDash":[2,2],"strokeWidth":0.8},"encoding":{"x":{"datum":0,"type":"quantitative","scale":{"domain":[-0.0216,1.0551],"nice":false,"zero":false},"axis":null}}},
{"data":{"name":"cb"},"mark":{"type":"point","filled":true,"size":20,"opacity":0.45,"strokeWidth":0},
"encoding":{
"x":{"field":"x","type":"quantitative","scale":{"domain":[-0.0216,1.0551],"nice":false,"zero":false},"axis":{"grid":true,"values":[0,0.2,0.4,0.6,0.8,1],"format":".1f","title":"d","titleFontStyle":"italic","titleFontSize":13,"titleAlign":"right","titleBaseline":"alphabetic","titleX":206,"titleY":36}},
"y":{"field":"y","type":"quantitative","scale":{"domain":[-0.0187,1.0453],"nice":false,"zero":false},"axis":{"grid":true,"values":[0,0.2,0.4,0.6,0.8,1],"format":".1f","title":"d","titleFontStyle":"italic","titleFontSize":13,"titleAlign":"right","titleBaseline":"alphabetic","titleAngle":270,"titleX":-39,"titleY":247}},
"color":{"field":"c","type":"nominal","scale":{"domain":["eq","g","r","b"],"range":["#333333","#c8c8c8","#d62728","#1f77b4"]},
"legend":{"orient":"top-left","title":null,"symbolSize":30,"symbolOffset":9,"labelOffset":25,"labelExpr":"datum.value === 'eq' ? 'dⱼ = dᵢ (σ̂ = 1)' : datum.value === 'g' ? 'dᵢ ≈ 0 (n = 156)' : datum.value === 'r' ? 'dⱼ > dᵢ (n = 630)' : 'dⱼ ≤ dᵢ (n = 714)'"}},
"shape":{"field":"c","type":"nominal","scale":{"domain":["eq","g","r","b"],"range":["M-3.6,-0.2H-2.2V0.2H-3.6Z M-1.5,-0.2H-0.1V0.2H-1.5Z M0.6,-0.2H2.0V0.2H0.6Z M2.7,-0.2H3.6V0.2H2.7Z","circle","circle","circle"]},
"legend":{"orient":"top-left","title":null,"symbolSize":30,"symbolOffset":9,"labelOffset":25,"labelExpr":"datum.value === 'eq' ? 'dⱼ = dᵢ (σ̂ = 1)' : datum.value === 'g' ? 'dᵢ ≈ 0 (n = 156)' : datum.value === 'r' ? 'dⱼ > dᵢ (n = 630)' : 'dⱼ ≤ dᵢ (n = 714)'"}}
}},
{"data":{"name":"diag"},"mark":{"type":"line","color":"#7f7f7f","strokeDash":[4,3],"strokeWidth":1,"clip":true},
"encoding":{
"x":{"field":"x","type":"quantitative","scale":{"domain":[-0.0216,1.0551],"nice":false,"zero":false},"axis":{"orient":"bottom","title":"gen_query_1","titleFontSize":9.5,"titleAlign":"left","titleBaseline":"alphabetic","titleX":207,"titleY":39,"labels":false,"ticks":false,"domain":false,"grid":false}},
"y":{"field":"y","type":"quantitative","scale":{"domain":[-0.0187,1.0453],"nice":false,"zero":false},"axis":{"orient":"left","title":"retrieve_1","titleFontSize":9.5,"titleAlign":"left","titleBaseline":"alphabetic","titleAngle":270,"titleX":-36,"titleY":246,"labels":false,"ticks":false,"domain":false,"grid":false}}}},
{"mark":{"type":"rect","fill":"white","fillOpacity":0.8,"stroke":"#aaaaaa","strokeWidth":1,"cornerRadius":5},
"encoding":{"x":{"datum":0.731,"type":"quantitative","axis":null},"x2":{"datum":1.036},"y":{"datum":0.157,"type":"quantitative","axis":null},"y2":{"datum":0.024}}},
{"data":{"name":"cbnote"},"mark":{"type":"text","align":"right","baseline":"middle","lineBreak":"\n","fontSize":11.5,"lineHeight":14.5,"color":"#000"},
"encoding":{"x":{"datum":1.021,"type":"quantitative","axis":null},"y":{"datum":0.136,"type":"quantitative","axis":null},"text":{"field":"t"}}}
],
"resolve":{"axis":{"x":"independent","y":"independent"}}
}
],
"spacing":12,
"resolve":{"scale":{"color":"independent","shape":"independent"},"legend":{"color":"independent","shape":"independent"}},
"config":{
"font":"DejaVu Sans",
"view":{"stroke":"#000000","strokeWidth":1},
"title":{"fontSize":13,"fontWeight":"normal","offset":7,"color":"#000"},
"axis":{"grid":true,"gridColor":"#dddddd","gridWidth":1,"domain":false,"tickColor":"#000","tickSize":3.5,"tickWidth":0.8,"labelFontSize":11.5,"labelColor":"#000","labelFont":"DejaVu Sans","labelPadding":3,"titleFont":"DejaVu Sans","titleFontWeight":"normal","titleColor":"#000"},
"legend":{"labelFont":"DejaVu Sans","labelFontSize":11,"labelColor":"#000","rowPadding":7,"padding":6,"cornerRadius":3,"fillColor":"rgba(255,255,255,0.8)","strokeColor":"#cccccc","offset":3}
}
}
